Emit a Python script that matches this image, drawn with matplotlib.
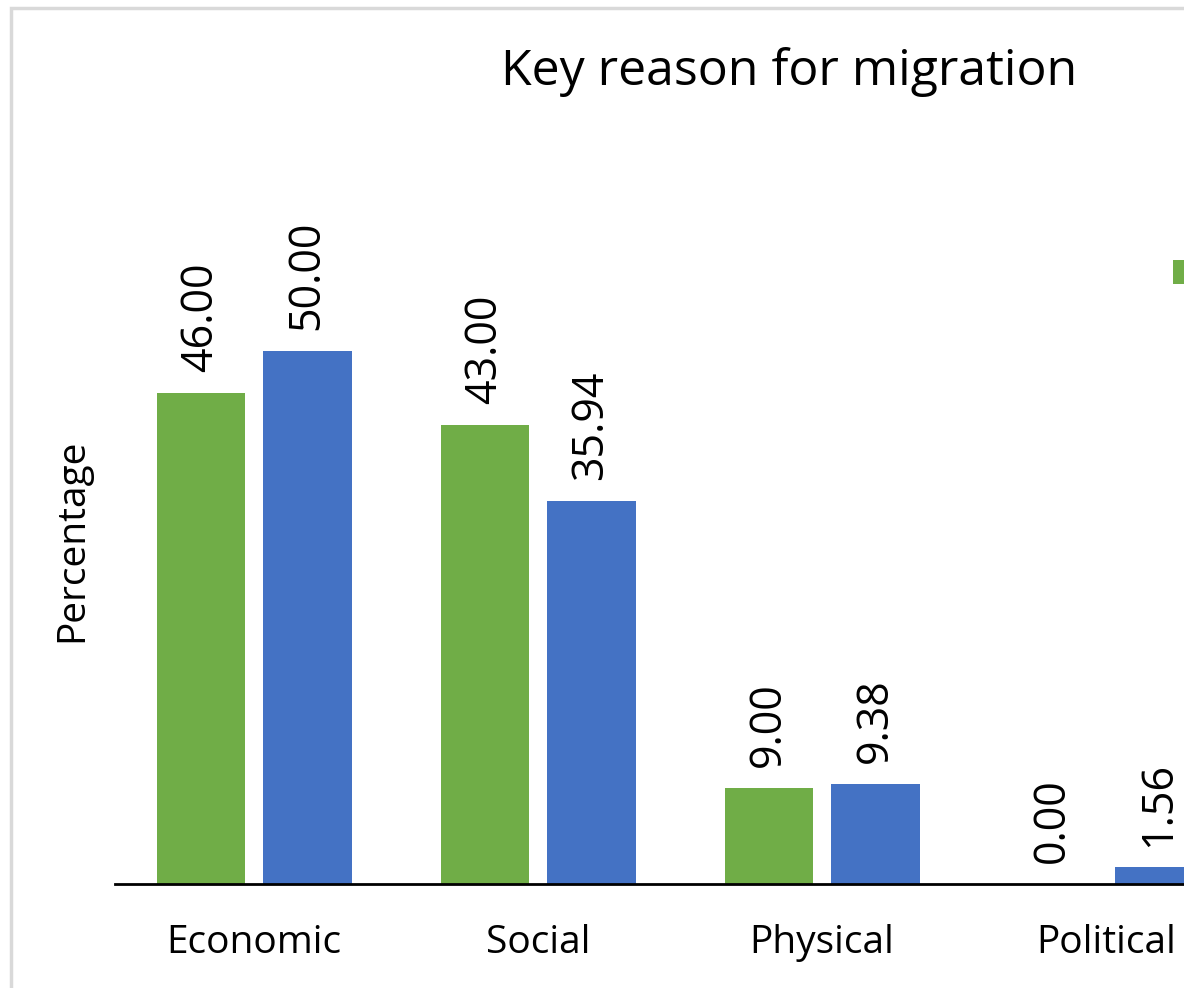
import matplotlib.pyplot as plt
from matplotlib.patches import Rectangle
import numpy as np

# data
categories = ['Economic', 'Social', 'Physical', 'Political']
series_names = ['2019', '2020']
green_vals = [46.00, 43.00, 9.00, 0.00]
blue_vals = [50.00, 35.94, 9.38, 1.56]

GREEN = '#70AD47'
BLUE = '#4472C4'

plt.rcParams['font.family'] = ['Open Sans', 'DejaVu Sans']

fig = plt.figure(figsize=(11.84, 9.88), dpi=100)

# light grey chart border (figure is cropped on the right)
fig.patches.append(Rectangle((11 / 1184, -0.1), 1.2, 1 - 8 / 988 + 0.1,
                             transform=fig.transFigure, fill=False,
                             edgecolor='#d9d9d9', linewidth=2.5))

# axes run past the right edge of the figure
ax = fig.add_axes([115 / 1184, 1 - 884 / 988, 1133 / 1184, 640 / 988])

x = np.arange(len(categories))
w = 0.313
off = 0.187
b1 = ax.bar(x - off, green_vals, w, color=GREEN, label=series_names[0])
b2 = ax.bar(x + off, blue_vals, w, color=BLUE, label=series_names[1])

for bars, vals in [(b1, green_vals), (b2, blue_vals)]:
    for r, v in zip(bars, vals):
        ax.annotate('%.2f' % v, (r.get_x() + r.get_width() / 2, r.get_height()),
                    xytext=(0, 15), textcoords='offset points',
                    rotation=90, ha='center', va='bottom', fontsize=31)

ax.set_xlim(-0.49, 3.5)
ax.set_ylim(0, 60)
ax.set_xticks(x)
ax.set_xticklabels(categories, fontsize=28)
ax.tick_params(axis='x', length=0, pad=29)
ax.set_yticks([])
for s in ['left', 'right', 'top']:
    ax.spines[s].set_visible(False)
ax.spines['bottom'].set_linewidth(2)

fig.text(789 / 1184, 1 - 72 / 988, 'Key reason for migration',
         ha='center', va='center', fontsize=36)
fig.text(72 / 1184, 1 - 540 / 988, 'Percentage', rotation=90,
         ha='center', va='center', fontsize=28)

ax.legend(loc='center left', bbox_to_anchor=(1173 / 1184, 1 - 274 / 988),
          bbox_transform=fig.transFigure, ncol=2, frameon=False,
          borderpad=0, borderaxespad=0, fontsize=20,
          handlelength=0.95, handleheight=0.95)

fig.savefig('out.png', dpi=100)
